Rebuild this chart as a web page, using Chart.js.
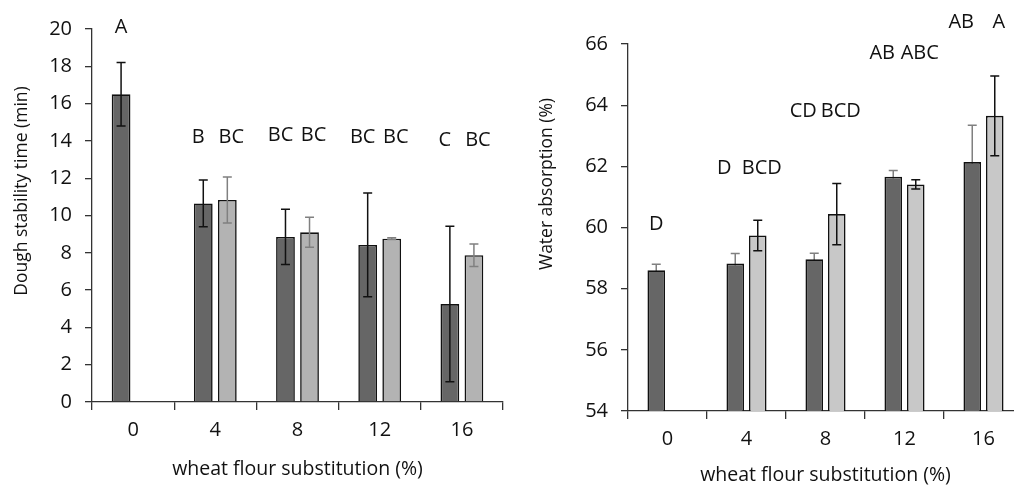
<!DOCTYPE html>
<html>
<head>
<meta charset="utf-8">
<script src="https://cdn.jsdelivr.net/npm/chart.js@4/dist/chart.umd.min.js"></script>
<style>
    body { margin: 0; width: 1014px; height: 487px; overflow: hidden; background: #fff; position: relative; }
    .box { position: absolute; top: 0; }
    #boxStab { left: 0; }
    #boxAbs { left: 520px; }
</style>
</head>
<body>
<div class="box" id="boxStab"><canvas id="chartStab" width="510" height="487"></canvas></div>
<div class="box" id="boxAbs"><canvas id="chartAbs" width="510" height="487"></canvas></div>
<script>
// du lieu doc tu hinh
const categories = ['0', '4', '8', '12', '16'];

const stabDark = [16.5, 10.65, 8.85, 8.42, 5.25];
const stabDarkErr = [1.7, 1.25, 1.48, 2.78, 4.17];
const stabLight = [null, 10.83, 9.1, 8.76, 7.87];
const stabLightErr = [null, 1.23, 0.8, 0.05, 0.6];
const stabLettersDark = ['A', 'B', 'BC', 'BC', 'C'];
const stabLettersLight = ['', 'BC', 'BC', 'BC', 'BC'];
const stabLetterY = [20.1, 14.2, 14.28, 14.2, 14.05];

const absDark = [58.6, 58.82, 58.96, 61.66, 62.14];
const absDarkErr = [0.2, 0.33, 0.2, 0.2, 1.2];
const absLight = [null, 59.74, 60.44, 61.41, 63.65];
const absLightErr = [null, 0.5, 1.0, 0.15, 1.3];
const absLettersDark = ['D', 'D', 'CD', 'AB', 'AB'];
const absLettersLight = ['', 'BCD', 'BCD', 'ABC', 'A'];
const absLetterY = [60.1, 61.94, 63.8, 65.7, 66.7];

Chart.defaults.font.family = "'Open Sans', sans-serif";
Chart.defaults.color = '#111';

function drawErrors(chart, behind) {
    const ctx = chart.ctx;
    const yScale = chart.scales.y;
    chart.data.datasets.forEach(function (ds, i) {
        if (!!ds.errBehind !== behind) return;
        const meta = chart.getDatasetMeta(i);
        meta.data.forEach(function (bar, j) {
            const v = ds.data[j], e = ds.err[j];
            if (v === null || e === null) return;
            const yTop = yScale.getPixelForValue(v + e);
            const yBot = yScale.getPixelForValue(v - e);
            ctx.save();
            ctx.strokeStyle = ds.errColor;
            ctx.lineWidth = 1.5;
            ctx.beginPath();
            ctx.moveTo(bar.x, yTop);
            ctx.lineTo(bar.x, yBot);
            ctx.moveTo(bar.x - 4.5, yTop);
            ctx.lineTo(bar.x + 4.5, yTop);
            ctx.moveTo(bar.x - 4.5, yBot);
            ctx.lineTo(bar.x + 4.5, yBot);
            ctx.stroke();
            ctx.restore();
        });
    });
}

const errorBarPlugin = {
    id: 'errorBars',
    beforeDatasetsDraw: function (chart) { drawErrors(chart, true); },
    afterDatasetsDraw: function (chart) { drawErrors(chart, false); }
};

const letterPlugin = {
    id: 'letters',
    afterDraw: function (chart, args, opts) {
        const ctx = chart.ctx;
        const yScale = chart.scales.y;
        const sets = chart.data.datasets;
        ctx.save();
        ctx.font = "20px 'Open Sans'";
        ctx.fillStyle = '#111';
        ctx.textAlign = 'center';
        ctx.textBaseline = 'middle';
        sets.forEach(function (ds, i) {
            const meta = chart.getDatasetMeta(i);
            meta.data.forEach(function (bar, j) {
                const txt = ds.letters[j];
                if (!txt) return;
                // chi dich chu khi co hai nhan canh nhau
                const pair = sets[1 - i].letters[j];
                const dx = pair ? opts.shift[i] : 0;
                ctx.fillText(txt, bar.x + dx, yScale.getPixelForValue(opts.heights[j]));
            });
        });
        // tieu de truc y
        ctx.translate(opts.titleX, opts.titleY);
        ctx.rotate(-Math.PI / 2);
        ctx.font = "17.5px 'Open Sans'";
        ctx.fillText(opts.title, 0, 0);
        ctx.restore();
    }
};

function makeChart(id, cfg) {
    return new Chart(document.getElementById(id), {
        type: 'bar',
        data: {
            labels: categories,
            datasets: [{
                data: cfg.dark,
                err: cfg.darkErr,
                letters: cfg.lettersDark,
                errColor: cfg.darkErrColor,
                errBehind: cfg.darkBehind,
                backgroundColor: '#666666',
                borderColor: '#111',
                borderWidth: 1.6
            }, {
                data: cfg.light,
                err: cfg.lightErr,
                letters: cfg.lettersLight,
                errColor: cfg.lightErrColor,
                backgroundColor: cfg.lightColor,
                borderColor: '#111',
                borderWidth: 1.6
            }]
        },
        options: {
            responsive: false,
            animation: false,
            events: [],
            categoryPercentage: cfg.catPct,
            barPercentage: 0.78,
            layout: { padding: { top: cfg.top, right: 7, left: 0, bottom: 0 } },
            plugins: {
                legend: { display: false },
                tooltip: { enabled: false },
                letters: {
                    heights: cfg.letterY,
                    shift: cfg.shift,
                    title: cfg.yTitle,
                    titleX: cfg.yTitleX,
                    titleY: cfg.yTitleY
                }
            },
            scales: {
                x: {
                    offset: true,
                    grid: { offset: true, drawOnChartArea: false, tickLength: 8, color: '#333', lineWidth: 1.3 },
                    border: { color: '#333', width: 1.3 },
                    ticks: { font: { size: 20 }, padding: 8, color: '#111' },
                    title: { display: true, text: 'wheat flour substitution (%)', font: { size: 19.5 }, padding: { top: 0, bottom: cfg.xTitlePad }, color: '#111' },
                    afterFit: function (s) { s.height = cfg.xHeight; }
                },
                y: {
                    min: cfg.min,
                    max: cfg.max,
                    ticks: { stepSize: 2, font: { size: 20 }, padding: cfg.yPad, color: '#111' },
                    grid: { drawOnChartArea: false, tickLength: 7, color: '#333', lineWidth: 1.3 },
                    border: { color: '#333', width: 1.3 },
                    afterFit: function (s) { s.width = cfg.yWidth; }
                }
            }
        },
        plugins: [errorBarPlugin, letterPlugin]
    });
}

makeChart('chartStab', {
    dark: stabDark, darkErr: stabDarkErr, lettersDark: stabLettersDark, darkErrColor: '#111', darkBehind: false,
    light: stabLight, lightErr: stabLightErr, lettersLight: stabLettersLight, lightErrColor: '#808080',
    lightColor: '#b3b3b3',
    letterY: stabLetterY, shift: [-5, 4],
    min: 0, max: 20,
    top: 29, xHeight: 85, yWidth: 92, yPad: 13, xTitlePad: 6, catPct: 0.585,
    yTitle: 'Dough stability time (min)', yTitleX: 22, yTitleY: 191
});

makeChart('chartAbs', {
    dark: absDark, darkErr: absDarkErr, lettersDark: absLettersDark, darkErrColor: '#808080', darkBehind: true,
    light: absLight, lightErr: absLightErr, lettersLight: absLettersLight, lightErrColor: '#111',
    lightColor: '#c8c8c8',
    letterY: absLetterY, shift: [-11, 4],
    min: 54, max: 66,
    top: 44, xHeight: 76, yWidth: 108, yPad: 13, xTitlePad: 0, catPct: 0.57,
    yTitle: 'Water absorption (%)', yTitleX: 27, yTitleY: 184
});
</script>
</body>
</html>
